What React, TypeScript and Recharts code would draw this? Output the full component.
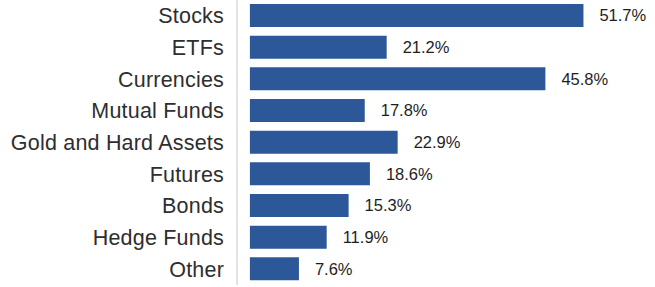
import { BarChart, Bar, XAxis, YAxis, LabelList } from "recharts";

const categories = [
  "Stocks",
  "ETFs",
  "Currencies",
  "Mutual Funds",
  "Gold and Hard Assets",
  "Futures",
  "Bonds",
  "Hedge Funds",
  "Other",
];
const shares = [51.7, 21.2, 45.8, 17.8, 22.9, 18.6, 15.3, 11.9, 7.6];

const data = categories.map((name, i) => ({ name, value: shares[i] }));

const App = () => {
  return (
    <>
      <style>{"body{margin:0}"}</style>
      <BarChart
        width={655}
        height={287}
        data={data}
        layout="vertical"
        margin={{ top: 0, right: 18, left: 0, bottom: 2 }}
      >
        <XAxis type="number" hide domain={[-2, 60]} />
        <YAxis
          type="category"
          dataKey="name"
          width={237}
          tickLine={false}
          tickSize={0}
          tickMargin={13}
          axisLine={{ stroke: "#c8c8c8" }}
          tick={{
            fill: "#2e2e2e",
            fontSize: 21.5,
            letterSpacing: 0.2,
            fontFamily: "Liberation Sans, Arial, sans-serif",
          }}
          interval={0}
        />
        <Bar
          dataKey="value"
          fill="#2c5798"
          barSize={23}
          isAnimationActive={false}
        >
          <LabelList
            dataKey="value"
            position="right"
            offset={16}
            formatter={(v: any) => `${v}%`}
            style={{
              fill: "#1e1e1e",
              fontSize: 16.5,
              fontFamily: "Liberation Sans, Arial, sans-serif",
            }}
          />
        </Bar>
      </BarChart>
    </>
  );
};

export default App;
